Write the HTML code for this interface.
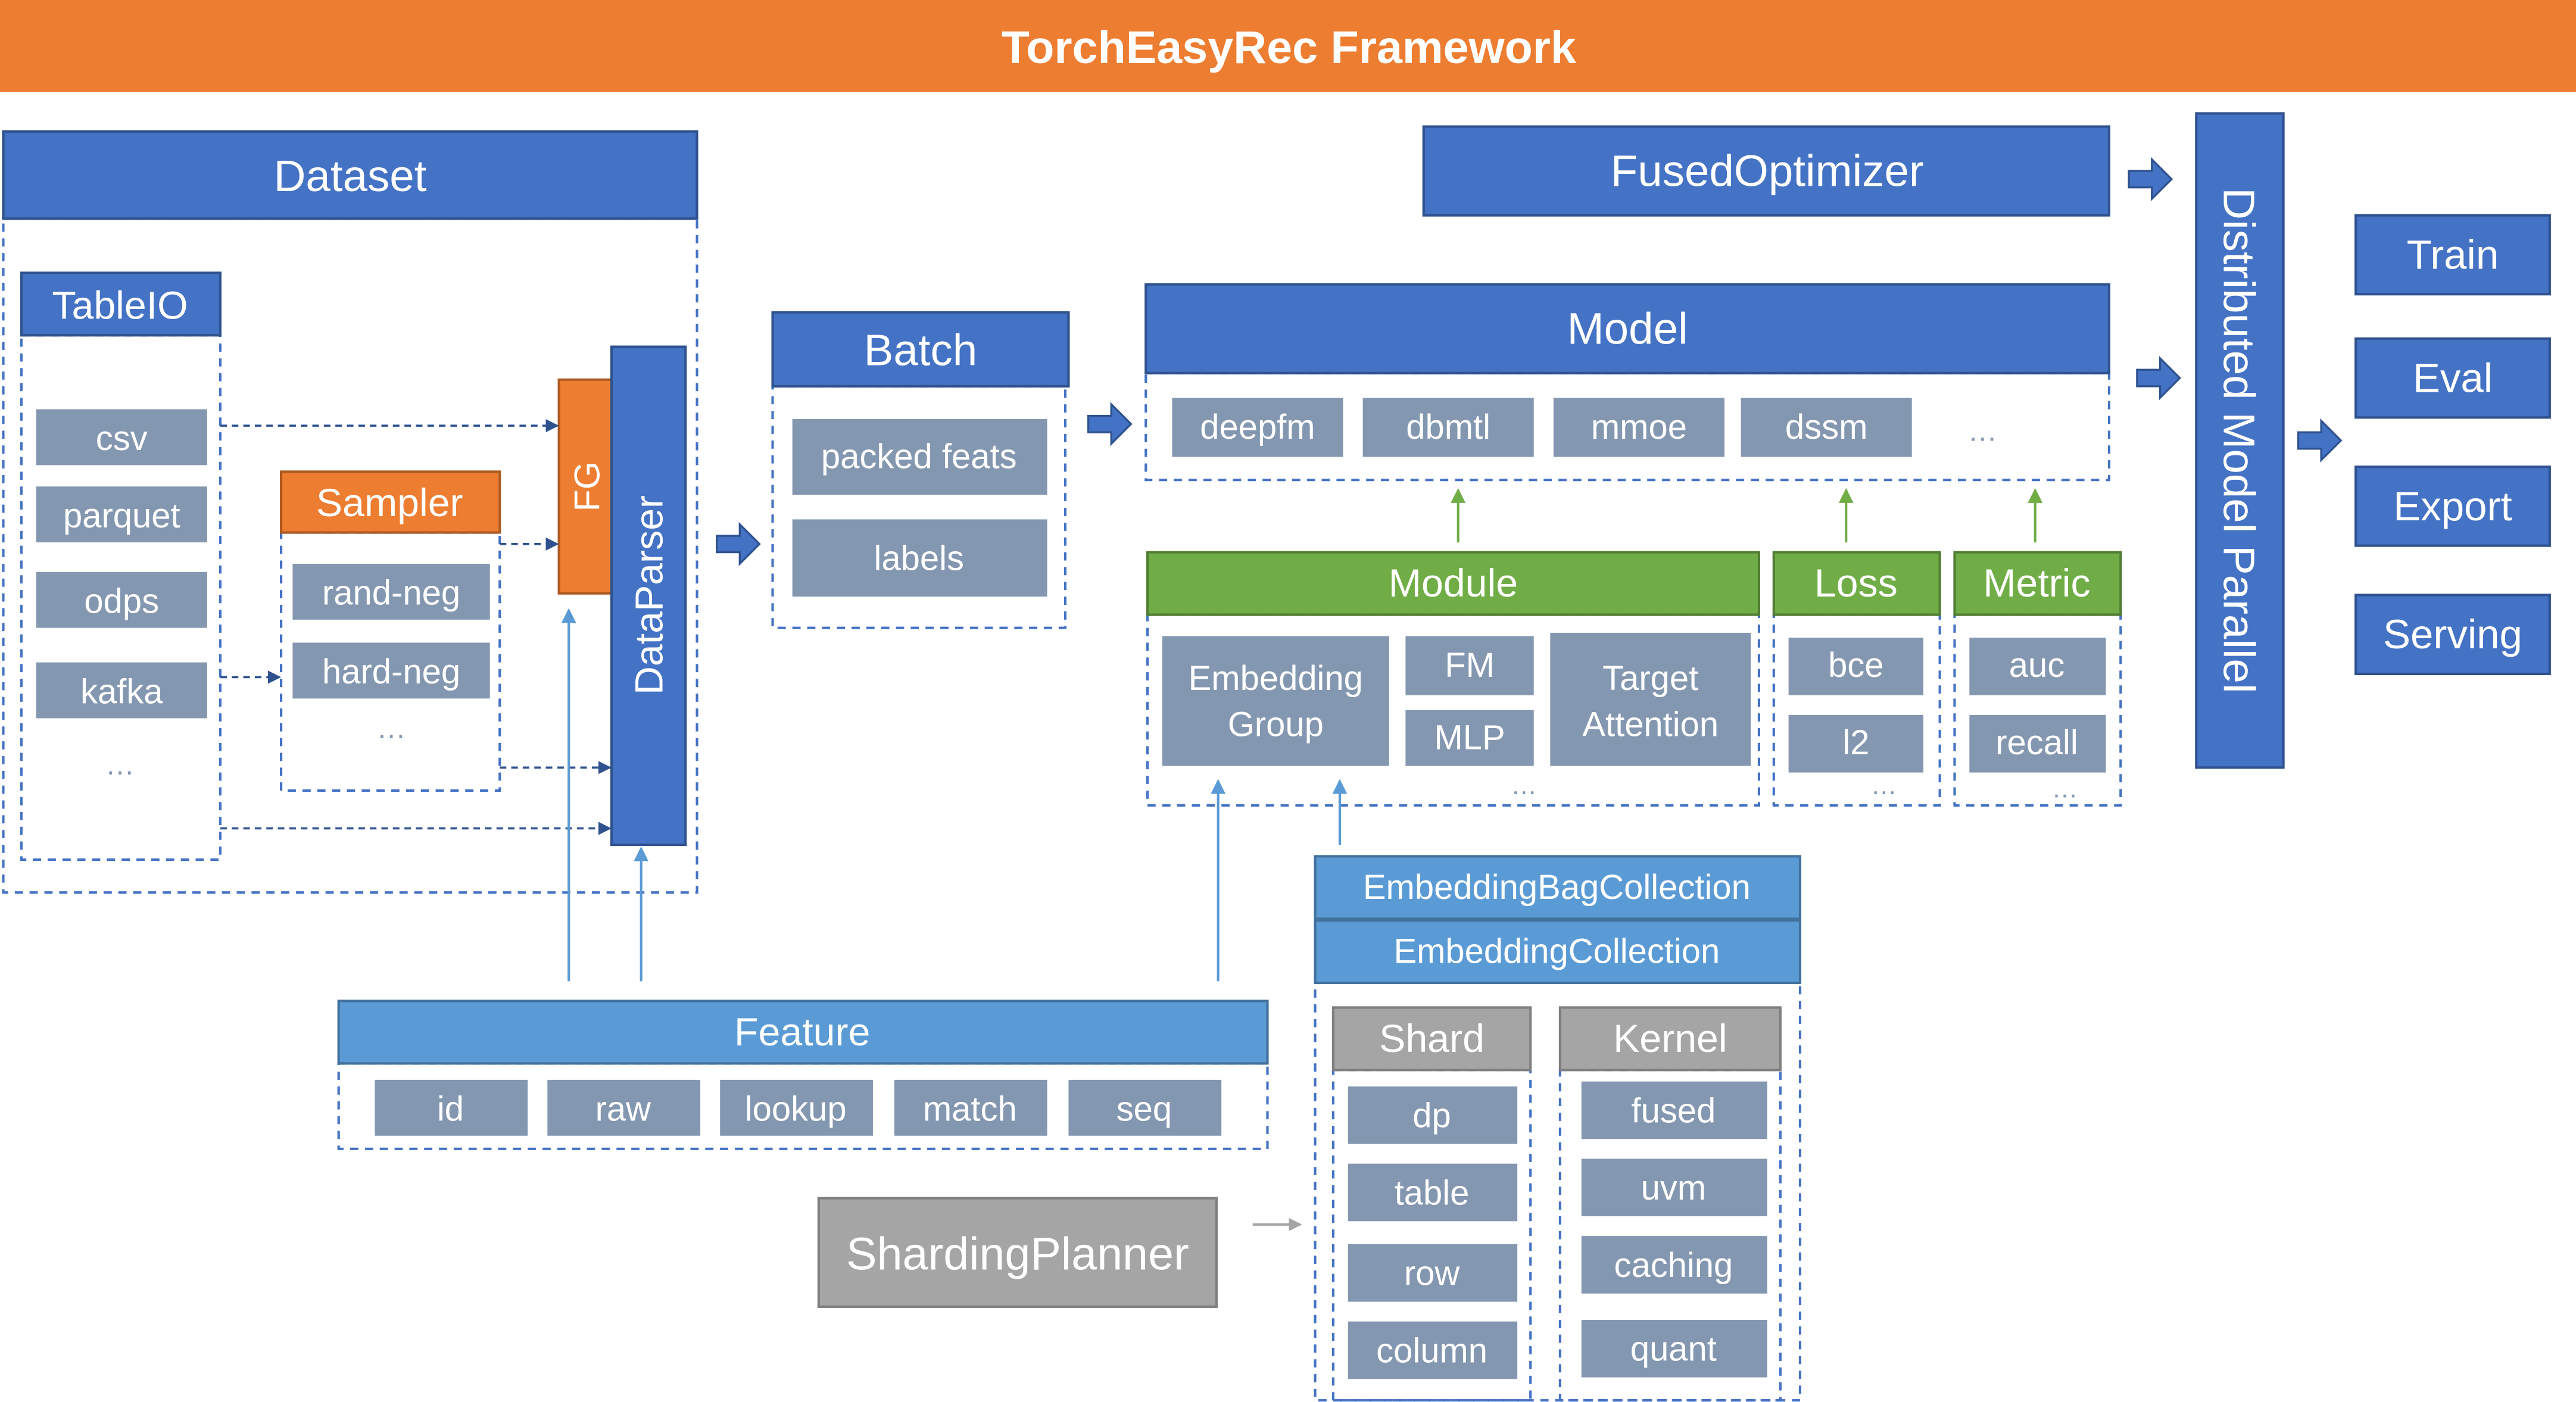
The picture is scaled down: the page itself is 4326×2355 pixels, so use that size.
<!DOCTYPE html>
<html><head><meta charset="utf-8"><style>
html,body{margin:0;padding:0;background:#fff;}
svg{display:block;}
text{font-family:"Liberation Sans","Noto Sans CJK SC",sans-serif;fill:#fff;text-anchor:middle;dominant-baseline:central;}
.b{fill:#4472C4;stroke:#2F528F;stroke-width:1.5}
.g{fill:#8497B0}
.gr{fill:#70AD47;stroke:#507E32;stroke-width:1.5}
.lb{fill:#5B9BD5;stroke:#41719C;stroke-width:1.5}
.o{fill:#ED7D31;stroke:#AE5A21;stroke-width:1.5}
.gy{fill:#A5A5A5;stroke:#7F7F7F;stroke-width:1.5}
.d{fill:none;stroke:#4472C4;stroke-width:1.5;stroke-dasharray:5,4}
.da{stroke:#2F528F;stroke-width:1.3;stroke-dasharray:4,3;fill:none}
.ba{fill:#4472C4;stroke:#2F528F;stroke-width:1.2}
</style></head><body>
<svg width="4326" height="2355" viewBox="0 0 1567 853" preserveAspectRatio="none" xmlns="http://www.w3.org/2000/svg">
<defs>
<marker id="ad" markerWidth="8" markerHeight="8" refX="7" refY="4" orient="auto" markerUnits="userSpaceOnUse"><path d="M0,0 L8,4 L0,8z" fill="#2F528F"/></marker>
<marker id="al" markerWidth="9" markerHeight="9" refX="8" refY="4.5" orient="auto" markerUnits="userSpaceOnUse"><path d="M0,0 L9,4.5 L0,9z" fill="#5B9BD5"/></marker>
<marker id="ag" markerWidth="9" markerHeight="9" refX="8" refY="4.5" orient="auto" markerUnits="userSpaceOnUse"><path d="M0,0 L9,4.5 L0,9z" fill="#70AD47"/></marker>
<marker id="ay" markerWidth="8" markerHeight="8" refX="7" refY="4" orient="auto" markerUnits="userSpaceOnUse"><path d="M0,0 L8,4 L0,8z" fill="#A5A5A5"/></marker>
<path id="blk" d="M0,-5 L14,-5 L14,-12 L26,0 L14,12 L14,5 L0,5z"/>
</defs>
<rect x="0" y="0" width="1567" height="56" fill="#ED7D31"/>
<text x="784" y="29" font-size="28" font-weight="bold">TorchEasyRec Framework</text>

<!-- Dataset -->
<rect class="d" x="2" y="133" width="422" height="410"/>
<rect class="b" x="2" y="80" width="422" height="53"/><text x="213" y="107" font-size="27">Dataset</text>
<rect class="d" x="13" y="204" width="121" height="319"/>
<rect class="b" x="13" y="166" width="121" height="38"/><text x="73" y="186" font-size="24">TableIO</text>
<rect class="g" x="22" y="249" width="104" height="34"/><text x="74" y="267" font-size="21">csv</text>
<rect class="g" x="22" y="296" width="104" height="34"/><text x="74" y="314" font-size="21">parquet</text>
<rect class="g" x="22" y="348" width="104" height="34"/><text x="74" y="366" font-size="21">odps</text>
<rect class="g" x="22" y="403" width="104" height="34"/><text x="74" y="421" font-size="21">kafka</text>
<text x="73" y="465" font-size="18" fill="#8497B0" style="fill:#8497B0">…</text>
<rect class="d" x="171" y="324" width="133" height="157"/>
<rect class="o" x="171" y="287" width="133" height="37"/><text x="237" y="306" font-size="24">Sampler</text>
<rect class="g" x="178" y="343" width="120" height="34"/><text x="238" y="361" font-size="21">rand-neg</text>
<rect class="g" x="178" y="391" width="120" height="34"/><text x="238" y="409" font-size="21">hard-neg</text>
<text x="238" y="443" font-size="18" style="fill:#8497B0">…</text>
<rect class="o" x="340" y="231" width="33" height="130"/>
<text transform="translate(357,296) rotate(-90)" font-size="22">FG</text>
<rect class="b" x="372" y="211" width="45" height="303"/>
<text transform="translate(395,362) rotate(-90)" font-size="24">DataParser</text>
<line class="da" x1="134" y1="259" x2="339" y2="259" marker-end="url(#ad)"/>
<line class="da" x1="304" y1="331" x2="339" y2="331" marker-end="url(#ad)"/>
<line class="da" x1="134" y1="412" x2="170" y2="412" marker-end="url(#ad)"/>
<line class="da" x1="304" y1="467" x2="371" y2="467" marker-end="url(#ad)"/>
<line class="da" x1="134" y1="504" x2="371" y2="504" marker-end="url(#ad)"/>
<use href="#blk" class="ba" x="436" y="331"/>

<!-- Batch -->
<rect class="d" x="470" y="235" width="178" height="147"/>
<rect class="b" x="470" y="190" width="180" height="45"/><text x="560" y="213" font-size="27">Batch</text>
<rect class="g" x="482" y="255" width="155" height="46"/><text x="559" y="278" font-size="21">packed feats</text>
<rect class="g" x="482" y="316" width="155" height="47"/><text x="559" y="340" font-size="21">labels</text>
<use href="#blk" class="ba" x="662" y="258"/>

<!-- FusedOptimizer / Model -->
<rect class="b" x="866" y="77" width="417" height="54"/><text x="1075" y="104" font-size="27">FusedOptimizer</text>
<rect class="d" x="697" y="227" width="586" height="65"/>
<rect class="b" x="697" y="173" width="586" height="54"/><text x="990" y="200" font-size="27">Model</text>
<rect class="g" x="713" y="242" width="104" height="36"/><text x="765" y="260" font-size="21">deepfm</text>
<rect class="g" x="829" y="242" width="104" height="36"/><text x="881" y="260" font-size="21">dbmtl</text>
<rect class="g" x="945" y="242" width="104" height="36"/><text x="997" y="260" font-size="21">mmoe</text>
<rect class="g" x="1059" y="242" width="104" height="36"/><text x="1111" y="260" font-size="21">dssm</text>
<text x="1206" y="262" font-size="18" style="fill:#8497B0">…</text>
<line x1="887" y1="330" x2="887" y2="298" stroke="#70AD47" stroke-width="1.5" marker-end="url(#ag)"/>
<line x1="1123" y1="330" x2="1123" y2="298" stroke="#70AD47" stroke-width="1.5" marker-end="url(#ag)"/>
<line x1="1238" y1="330" x2="1238" y2="298" stroke="#70AD47" stroke-width="1.5" marker-end="url(#ag)"/>

<!-- Module -->
<rect class="d" x="698" y="374" width="372" height="116"/>
<rect class="gr" x="698" y="336" width="372" height="38"/><text x="884" y="355" font-size="24">Module</text>
<rect class="g" x="707" y="387" width="138" height="79"/><text x="776" y="413" font-size="21">Embedding</text><text x="776" y="441" font-size="21">Group</text>
<rect class="g" x="855" y="387" width="78" height="36"/><text x="894" y="405" font-size="21">FM</text>
<rect class="g" x="855" y="432" width="78" height="34"/><text x="894" y="449" font-size="21">MLP</text>
<rect class="g" x="943" y="385" width="122" height="81"/><text x="1004" y="413" font-size="21">Target</text><text x="1004" y="441" font-size="21">Attention</text>
<text x="927" y="478" font-size="16" style="fill:#8497B0">…</text>
<rect class="d" x="1079" y="374" width="101" height="116"/>
<rect class="gr" x="1079" y="336" width="101" height="38"/><text x="1129" y="355" font-size="24">Loss</text>
<rect class="g" x="1088" y="388" width="82" height="35"/><text x="1129" y="405" font-size="21">bce</text>
<rect class="g" x="1088" y="435" width="82" height="35"/><text x="1129" y="452" font-size="21">l2</text>
<text x="1146" y="478" font-size="16" style="fill:#8497B0">…</text>
<rect class="d" x="1189" y="374" width="101" height="116"/>
<rect class="gr" x="1189" y="336" width="101" height="38"/><text x="1239" y="355" font-size="24">Metric</text>
<rect class="g" x="1198" y="388" width="83" height="35"/><text x="1239" y="405" font-size="21">auc</text>
<rect class="g" x="1198" y="435" width="83" height="35"/><text x="1239" y="452" font-size="21">recall</text>
<text x="1256" y="480" font-size="16" style="fill:#8497B0">…</text>

<use href="#blk" class="ba" x="1295" y="109"/>
<use href="#blk" class="ba" x="1300" y="230"/>
<rect class="b" x="1336" y="69" width="53" height="398"/>
<text transform="translate(1362,268) rotate(90)" font-size="27">Distributed Model Parallel</text>
<use href="#blk" class="ba" x="1398" y="268"/>
<rect class="b" x="1433" y="131" width="118" height="48"/><text x="1492" y="155" font-size="25">Train</text>
<rect class="b" x="1433" y="206" width="118" height="48"/><text x="1492" y="230" font-size="25">Eval</text>
<rect class="b" x="1433" y="284" width="118" height="48"/><text x="1492" y="308" font-size="25">Export</text>
<rect class="b" x="1433" y="362" width="118" height="48"/><text x="1492" y="386" font-size="25">Serving</text>

<!-- Embedding collections -->
<rect class="d" x="800" y="598" width="295" height="254"/>
<rect class="lb" x="800" y="521" width="295" height="38"/><text x="947" y="540" font-size="21">EmbeddingBagCollection</text>
<rect class="lb" x="800" y="560" width="295" height="38"/><text x="947" y="579" font-size="21">EmbeddingCollection</text>
<rect class="d" x="811" y="651" width="120" height="201"/>
<rect class="gy" x="811" y="613" width="120" height="38"/><text x="871" y="632" font-size="24">Shard</text>
<rect class="g" x="820" y="661" width="103" height="35"/><text x="871" y="679" font-size="21">dp</text>
<rect class="g" x="820" y="708" width="103" height="35"/><text x="871" y="726" font-size="21">table</text>
<rect class="g" x="820" y="757" width="103" height="35"/><text x="871" y="775" font-size="21">row</text>
<rect class="g" x="820" y="804" width="103" height="35"/><text x="871" y="822" font-size="21">column</text>
<rect class="d" x="949" y="651" width="134" height="201"/>
<rect class="gy" x="949" y="613" width="134" height="38"/><text x="1016" y="632" font-size="24">Kernel</text>
<rect class="g" x="962" y="658" width="113" height="35"/><text x="1018" y="676" font-size="21">fused</text>
<rect class="g" x="962" y="705" width="113" height="35"/><text x="1018" y="723" font-size="21">uvm</text>
<rect class="g" x="962" y="752" width="113" height="35"/><text x="1018" y="770" font-size="21">caching</text>
<rect class="g" x="962" y="803" width="113" height="35"/><text x="1018" y="821" font-size="21">quant</text>
<rect class="gy" x="498" y="729" width="242" height="66"/><text x="619" y="763" font-size="28">ShardingPlanner</text>
<line x1="762" y1="745" x2="791" y2="745" stroke="#A5A5A5" stroke-width="1.5" marker-end="url(#ay)"/>

<!-- Feature -->
<rect class="d" x="206" y="647" width="565" height="52"/>
<rect class="lb" x="206" y="609" width="565" height="38"/><text x="488" y="628" font-size="24">Feature</text>
<rect class="g" x="228" y="657" width="93" height="34"/><text x="274" y="675" font-size="21">id</text>
<rect class="g" x="333" y="657" width="93" height="34"/><text x="379" y="675" font-size="21">raw</text>
<rect class="g" x="438" y="657" width="93" height="34"/><text x="484" y="675" font-size="21">lookup</text>
<rect class="g" x="544" y="657" width="93" height="34"/><text x="590" y="675" font-size="21">match</text>
<rect class="g" x="650" y="657" width="93" height="34"/><text x="696" y="675" font-size="21">seq</text>
<line x1="346" y1="597" x2="346" y2="371" stroke="#5B9BD5" stroke-width="1.5" marker-end="url(#al)"/>
<line x1="390" y1="597" x2="390" y2="516" stroke="#5B9BD5" stroke-width="1.5" marker-end="url(#al)"/>
<line x1="741" y1="597" x2="741" y2="475" stroke="#5B9BD5" stroke-width="1.5" marker-end="url(#al)"/>
<line x1="815" y1="514" x2="815" y2="475" stroke="#5B9BD5" stroke-width="1.5" marker-end="url(#al)"/>
</svg>
</body></html>
